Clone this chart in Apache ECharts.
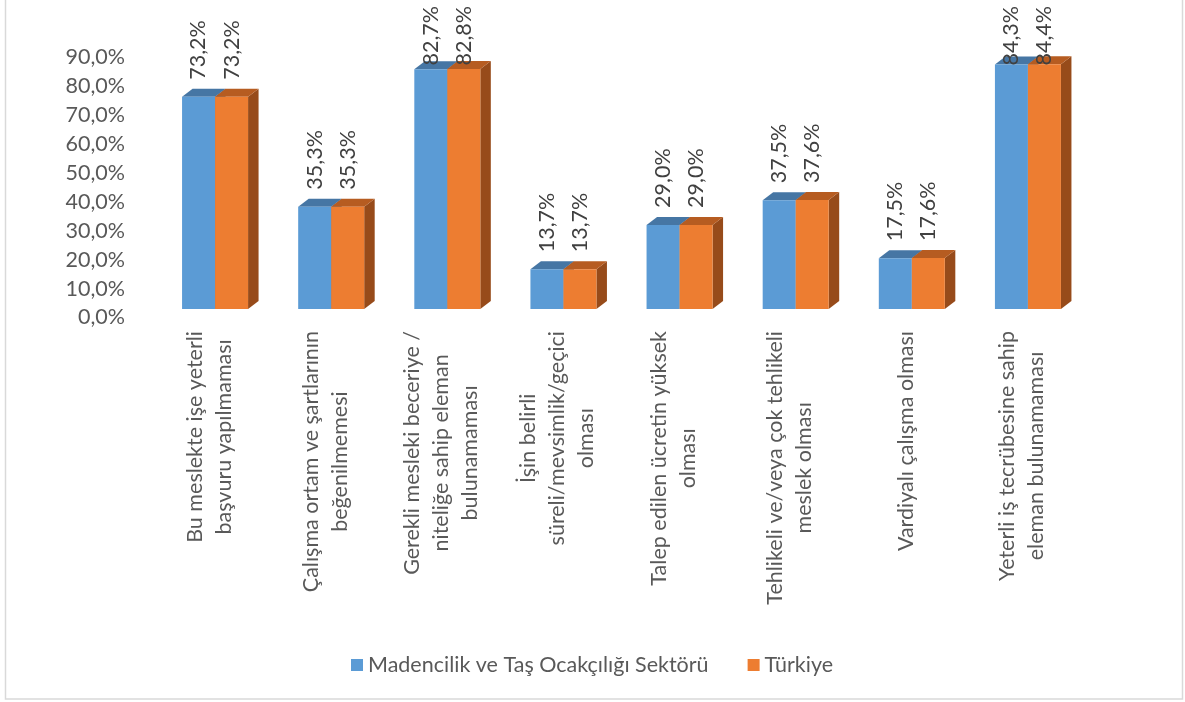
<!DOCTYPE html>
<html>
<head>
<meta charset="utf-8">
<script src="https://cdn.jsdelivr.net/npm/echarts@6/dist/echarts.min.js"></script>
<style>
  html, body { margin: 0; padding: 0; background: #ffffff; }
  #chart { width: 1185px; height: 702px; }
</style>
</head>
<body>
<div id="chart"></div>
<script>
// ---- data ----
const categories = [
  'Bu meslekte işe yeterli\nbaşvuru yapılmaması',
  'Çalışma ortam ve şartlarının\nbeğenilmemesi',
  'Gerekli mesleki beceriye /\nniteliğe sahip eleman\nbulunamaması',
  'İşin belirli\nsüreli/mevsimlik/geçici\nolması',
  'Talep edilen ücretin yüksek\nolması',
  'Tehlikeli ve/veya çok tehlikeli\nmeslek olması',
  'Vardiyalı çalışma olması',
  'Yeterli iş tecrübesine sahip\neleman bulunamaması'
];
const madencilik = [73.2, 35.3, 82.7, 13.7, 29.0, 37.5, 17.5, 84.3];
const turkiye    = [73.2, 35.3, 82.8, 13.7, 29.0, 37.6, 17.6, 84.4];
const seriesNames = ['Madencilik ve Taş Ocakçılığı Sektörü', 'Türkiye'];
const yTicks = { min: 0, max: 90, interval: 10 };

// ---- styles ----
const FONT_FAMILY = 'Lato';
const FONT_SIZE = 21.5;
const AXIS_COLOR = '#595959';
const LABEL_COLOR = '#404040';
const palettes = [
  { front: '#5B9BD5', top: '#4676A4', side: '#3F6C98' },
  { front: '#ED7D31', top: '#B65C21', side: '#974B1A' }
];
const BAR_RATIO = 33 / 116.1;
const DEPTH_X = 10.5, DEPTH_Y = 8;
const LABEL_GAP = 17;     // from front top to text start
const LABEL_MIN_TOP = 6;  // text cannot go above this
const CAT_LABEL_GAP = 22; // below axis
const CAT_LABEL_DX = -6;
const LINE_H = 29;

const measureCtx = document.createElement('canvas').getContext('2d');
measureCtx.font = FONT_SIZE + 'px ' + FONT_FAMILY;
function textW(s) { return measureCtx.measureText(s).width; }
function fmt(v) { return v.toFixed(1).replace('.', ',') + '%'; }

function barRenderer(si) {
  return function (params, api) {
    const ci = api.value(0), v = api.value(1);
    const base = api.coord([ci, 0]);
    const top = api.coord([ci, v]);
    const band = api.size([1, 0])[0];
    const bw = band * BAR_RATIO;
    const x0 = base[0] + (si === 0 ? -bw : 0);
    const x1 = x0 + bw;
    const yb = base[1], yt = top[1];
    const p = palettes[si];
    const txt = fmt(v);
    const tw = textW(txt);
    const labelBottom = Math.max(yt - LABEL_GAP, LABEL_MIN_TOP + tw);
    return {
      type: 'group',
      children: [
        { type: 'polygon', shape: { points: [[x1, yt], [x1 + DEPTH_X, yt - DEPTH_Y], [x1 + DEPTH_X, yb - DEPTH_Y], [x1, yb]] }, style: { fill: p.side } },
        { type: 'polygon', shape: { points: [[x0, yt], [x0 + DEPTH_X, yt - DEPTH_Y], [x1 + DEPTH_X, yt - DEPTH_Y], [x1, yt]] }, style: { fill: p.top } },
        { type: 'rect', shape: { x: x0, y: yt, width: bw, height: yb - yt }, style: { fill: p.front } },
        { type: 'text', x: (x0 + x1) / 2, y: labelBottom, rotation: Math.PI / 2,
          style: { text: txt, fill: LABEL_COLOR, fontSize: FONT_SIZE, fontFamily: FONT_FAMILY,
                   align: 'left', verticalAlign: 'middle', textAlign: 'left', textVerticalAlign: 'middle' } }
      ]
    };
  };
}

function catLabelRenderer(params, api) {
  const ci = api.value(0);
  const pos = api.coord([ci, 0]);
  const txt = categories[ci];
  const maxW = Math.max.apply(null, txt.split('\n').map(textW));
  return {
    type: 'text', x: pos[0] + CAT_LABEL_DX, y: pos[1] + CAT_LABEL_GAP + maxW / 2, rotation: Math.PI / 2,
    style: { text: txt, fill: AXIS_COLOR, fontSize: FONT_SIZE, fontFamily: FONT_FAMILY, lineHeight: LINE_H,
             align: 'center', verticalAlign: 'middle', textAlign: 'center', textVerticalAlign: 'middle' }
  };
}

const chart = echarts.init(document.getElementById('chart'), null, { renderer: 'canvas' });
chart.setOption({
  animation: false,
  backgroundColor: '#ffffff',
  textStyle: { fontFamily: FONT_FAMILY },
  graphic: [{
    type: 'rect', shape: { x: 5.5, y: -5, width: 1177, height: 704 },
    style: { fill: 'none', stroke: '#D9D9D9', lineWidth: 1.5 }, silent: true, z: -10
  }],
  legend: {
    data: seriesNames,
    left: 346, top: 649,
    itemWidth: 12, itemHeight: 12, itemGap: 39,
    icon: 'rect',
    textStyle: { fontSize: FONT_SIZE, color: AXIS_COLOR, fontFamily: FONT_FAMILY, padding: [0, 0, 0, 0] }
  },
  grid: [
    { left: 157, right: 1185 - 1086, top: 48, bottom: 702 - 309 },
    { left: 133, width: 10, top: 57.5, bottom: 702 - 317.5 }
  ],
  xAxis: [
    { type: 'category', gridIndex: 0, data: categories, axisLine: { show: false }, axisTick: { show: false }, axisLabel: { show: false } },
    { type: 'value', gridIndex: 1, show: false }
  ],
  yAxis: [
    { type: 'value', gridIndex: 0, min: yTicks.min, max: yTicks.max, show: false, splitLine: { show: false } },
    { type: 'value', gridIndex: 1, min: yTicks.min, max: yTicks.max, interval: yTicks.interval,
      axisLine: { show: false }, axisTick: { show: false }, splitLine: { show: false },
      axisLabel: { formatter: fmt, fontSize: FONT_SIZE, color: AXIS_COLOR, fontFamily: FONT_FAMILY, margin: 8 } }
  ],
  series: [
    { name: seriesNames[0], type: 'custom', xAxisIndex: 0, yAxisIndex: 0, clip: false,
      itemStyle: { color: palettes[0].front }, renderItem: barRenderer(0),
      data: madencilik.map((v, i) => [i, v]) },
    { name: seriesNames[1], type: 'custom', xAxisIndex: 0, yAxisIndex: 0, clip: false,
      itemStyle: { color: palettes[1].front }, renderItem: barRenderer(1),
      data: turkiye.map((v, i) => [i, v]) },
    { name: 'labels', type: 'custom', xAxisIndex: 0, yAxisIndex: 0, clip: false, silent: true,
      renderItem: catLabelRenderer, data: categories.map((c, i) => [i]) }
  ]
});
</script>
</body>
</html>
